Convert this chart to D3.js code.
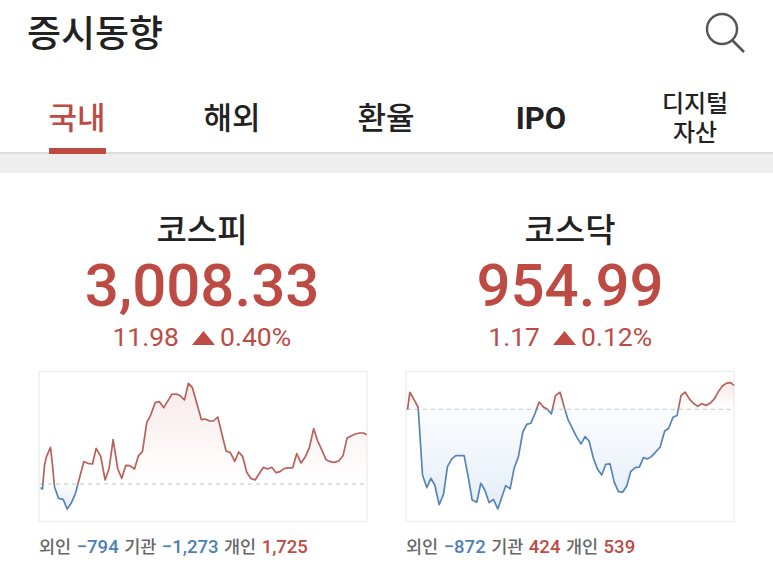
<!DOCTYPE html>
<html>
<head>
<meta charset="utf-8">
<script src="https://cdn.jsdelivr.net/npm/d3@7"></script>
<style>
  html, body { margin: 0; padding: 0; background: #fff; overflow: hidden; }
  text { font-family: "Noto Sans CJK KR", sans-serif; }
  .num { font-family: Roboto, sans-serif; }
</style>
</head>
<body>
<script>
// screen text
var title = '증시동향'
var tabs = ['국내', '해외', '환율', 'IPO']
var lastTab = ['디지털', '자산']
var indexNames = ['코스피', '코스닥']
var indexValues = ['3,008.33', '954.99']
var indexChanges = ['11.98', '1.17']
var indexRates = ['0.40%', '0.12%']

// minutes since the open, and change from the previous close
var kospiMinutes = [0, 2.4, 4.8, 7.2, 12, 14.4, 16.8, 21.6, 27.2, 32, 36.8, 42, 47.2, 52, 56.8, 62.4, 66.8, 72.4, 77.6, 82.4, 87.2, 92.8, 97.6, 102.4, 107.2, 112.8, 117.6, 122.4, 127.6, 132, 137.6, 142.8, 148, 157.6, 163.2, 167.6, 172.8, 177.6, 182.4, 188, 193.2, 197.6, 203.2, 207.6, 212.8, 222.8, 228, 233.2, 238, 242.8, 247.6, 252.4, 257.6, 267.6, 272.8, 277.6, 282.8, 287.6, 292.8, 302.8, 307.6, 312.8, 318, 322.8, 328, 332.8, 338, 342.8, 348, 352.8, 358, 363.2, 368, 372.8, 378, 382.8, 388, 391.6]
var kospiChange = [-0.88, -1.2, 4.56, 6.56, 8.8, 4.56, -0.64, -3.44, -3.68, -6, -4.64, -2.24, 1.76, 5.36, 4.96, 4.8, 8.56, 6.56, 0.96, 3.76, 10.64, 3.6, 1.36, 4.48, 4.4, 3.6, 6.8, 7.76, 14.8, 16.4, 19.52, 19.76, 18.32, 21.52, 21.6, 21.2, 20.16, 24.16, 23.12, 19.12, 15.44, 15.6, 15.12, 15.12, 16.08, 7.92, 7.52, 5.44, 7.68, 6.56, 2.8, 1.36, 0.96, 4, 3.6, 4, 2.72, 2.96, 3.76, 3.92, 7.28, 5.04, 6.56, 8.72, 13.28, 10.32, 8.08, 5.84, 5.36, 5.2, 5.52, 6.8, 10.96, 11.52, 12, 12.24, 12.24, 11.84]

var kosdaqMinutes = [0, 2.8, 8, 12.8, 18, 23.2, 28, 32.8, 38, 43.2, 48, 53.2, 58, 68, 73.2, 77.6, 83.2, 88, 92.8, 98, 103.2, 108.4, 118, 123.2, 128, 133.2, 138.4, 143.2, 148, 153.2, 158, 163.2, 168, 172.8, 177.6, 183.2, 188, 192.8, 198, 202.8, 208.4, 213.2, 218, 223.2, 228, 233.2, 238, 243.2, 248, 253.2, 258.4, 263.2, 268, 273.2, 278.4, 283.2, 288, 292.8, 303.2, 308.8, 313.6, 318.8, 323.6, 328.4, 333.2, 338.4, 343.2, 348.4, 353.2, 358.4, 363.2, 368.4, 373.2, 378, 383.2, 388, 392]
var kosdaqChange = [-0.03, 0.82, 0.45, 0.1, -3.15, -3.76, -3.31, -3.63, -4.58, -4.08, -2.75, -2.38, -2.22, -2.22, -3.31, -4.35, -4.46, -3.55, -3.87, -4.48, -4.32, -4.78, -3.66, -3.82, -2.83, -2.27, -1.1, -0.72, -0.67, -0.19, 0.35, 0.11, 0, -0.22, 0.66, 0.82, 0.13, -0.51, -0.91, -1.31, -1.66, -1.31, -1.52, -2.35, -2.86, -3.15, -2.64, -2.62, -3.47, -3.95, -3.97, -3.68, -2.99, -2.8, -2.77, -2.32, -2.38, -2.27, -1.82, -1.04, -0.91, -0.38, -0.3, 0.66, 0.83, 0.5, 0.29, 0.14, 0.27, 0.19, 0.29, 0.5, 0.85, 1.12, 1.26, 1.28, 1.15]

// investor net buying under each chart
var investorNames = ['외인', '기관', '개인']
var kospiInvestors = [-794, -1273, 1725]
var kosdaqInvestors = [-872, 424, 539]

// colours
var red = '#bd4b43'
var lineRed = '#b8605a'
var lineBlue = '#5684b8'
var blue = '#4d7fb5'
var dark = '#222'

var svg = d3.select('body').append('svg')
  .attr('width', 773).attr('height', 567)
  .style('display', 'block')
var defs = svg.append('defs')

// header
svg.append('text').text(title)
  .attr('x', 27).attr('y', 47)
  .attr('font-size', 37).attr('font-weight', 500).attr('fill', dark)

// search icon
svg.append('circle').attr('cx', 722).attr('cy', 29).attr('r', 15)
  .attr('fill', 'none').attr('stroke', '#555').attr('stroke-width', 2.4)
svg.append('line').attr('x1', 732).attr('y1', 40).attr('x2', 744).attr('y2', 52)
  .attr('stroke', '#555').attr('stroke-width', 2.6)

// tabs
var tabX = [77, 232, 386, 541]
svg.selectAll('text.tab').data(tabs).enter().append('text')
  .attr('class', function(d) { return d === 'IPO' ? 'tab num' : 'tab' })
  .text(function(d) { return d })
  .attr('x', function(d, i) { return tabX[i] })
  .attr('y', 129)
  .attr('text-anchor', 'middle')
  .attr('font-size', 31)
  .attr('font-weight', function(d) { return d === 'IPO' ? 700 : 500 })
  .attr('fill', function(d, i) { return i === 0 ? red : dark })
// the last tab wraps onto two lines inside one text
var lastTabText = svg.append('text')
  .attr('text-anchor', 'middle')
  .attr('font-size', 24).attr('font-weight', 500).attr('fill', dark)
lastTabText.selectAll('tspan').data(lastTab).enter().append('tspan')
  .text(function(d) { return d })
  .attr('x', 695)
  .attr('y', function(d, i) { return 112 + i * 29 })

// band under the tabs
svg.append('rect').attr('x', 0).attr('y', 153).attr('width', 773).attr('height', 20).attr('fill', '#eeeeee')
svg.append('rect').attr('x', 0).attr('y', 152).attr('width', 773).attr('height', 2).attr('fill', '#dddddd')
svg.append('rect').attr('x', 49).attr('y', 148).attr('width', 57).attr('height', 6).attr('fill', red)

// one index panel: headline, sparkline and investor row
var drawPanel = function(p) {
  var g = svg.append('g')
  g.append('text').text(p.name)
    .attr('x', p.cx).attr('y', 242).attr('text-anchor', 'middle')
    .attr('font-size', 33).attr('font-weight', 500).attr('fill', dark)
  g.append('text').attr('class', 'num').text(p.value)
    .attr('x', p.cx).attr('y', 306).attr('text-anchor', 'middle')
    .attr('font-size', 60).attr('font-weight', 500).attr('fill', red)

  g.append('text').attr('class', 'num').text(p.change)
    .attr('x', p.changeX).attr('y', 346).attr('text-anchor', 'end')
    .attr('font-size', 26.5).attr('fill', red)
  g.append('path')
    .attr('d', d3.line()([[p.triX, 345], [p.triX + 23, 345], [p.triX + 11.5, 331]]) + 'Z')
    .attr('fill', red)
  g.append('text').attr('class', 'num').text(p.rate)
    .attr('x', p.triX + 28).attr('y', 346)
    .attr('font-size', 26.5).attr('fill', red)

  // frame
  g.append('rect')
    .attr('x', p.left).attr('y', 371.5).attr('width', 328).attr('height', 150)
    .attr('fill', '#fff').attr('stroke', '#eeeeee').attr('stroke-width', 1.4)

  var x = d3.scaleLinear().domain([0, 392]).range([p.left + 1.5, p.left + 328])
  var y = d3.scaleLinear().domain(p.yDomain).range([521, 371.5])
  var base = y(0)
  var data = p.minutes.map(function(m, i) { return [m, p.changes[i]] })

  // clip above and below the previous close
  var upId = 'up' + p.id, downId = 'down' + p.id
  defs.append('clipPath').attr('id', upId).append('rect')
    .attr('x', p.left).attr('y', 371.5).attr('width', 329).attr('height', base - 371.5)
  defs.append('clipPath').attr('id', downId).append('rect')
    .attr('x', p.left).attr('y', base).attr('width', 329).attr('height', 521 - base)

  var gradUp = defs.append('linearGradient').attr('id', 'gu' + p.id)
    .attr('gradientUnits', 'userSpaceOnUse')
    .attr('x1', 0).attr('x2', 0).attr('y1', y(d3.max(p.changes))).attr('y2', base)
  gradUp.append('stop').attr('offset', 0).attr('stop-color', '#c8645a').attr('stop-opacity', 0.13)
  gradUp.append('stop').attr('offset', 1).attr('stop-color', '#c8645a').attr('stop-opacity', 0)
  var gradDown = defs.append('linearGradient').attr('id', 'gd' + p.id)
    .attr('gradientUnits', 'userSpaceOnUse')
    .attr('x1', 0).attr('x2', 0).attr('y1', base).attr('y2', y(d3.min(p.changes)))
  gradDown.append('stop').attr('offset', 0).attr('stop-color', '#5a93d0').attr('stop-opacity', 0.02)
  gradDown.append('stop').attr('offset', 1).attr('stop-color', '#5a93d0').attr('stop-opacity', 0.17)

  var area = d3.area().x(function(d) { return x(d[0]) }).y0(base).y1(function(d) { return y(d[1]) })
  var line = d3.line().x(function(d) { return x(d[0]) }).y(function(d) { return y(d[1]) })

  g.append('path').attr('d', area(data)).attr('fill', 'url(#gu' + p.id + ')').attr('clip-path', 'url(#' + upId + ')')
  g.append('path').attr('d', area(data)).attr('fill', 'url(#gd' + p.id + ')').attr('clip-path', 'url(#' + downId + ')')

  g.append('line')
    .attr('x1', p.left + 1).attr('x2', p.left + 328).attr('y1', base).attr('y2', base)
    .attr('stroke', '#c4c4c4').attr('stroke-width', 1).attr('stroke-dasharray', '4 4')

  g.append('path').attr('d', line(data)).attr('fill', 'none').attr('stroke', lineRed)
    .attr('stroke-width', 1.7).attr('stroke-linejoin', 'round').attr('clip-path', 'url(#' + upId + ')')
  g.append('path').attr('d', line(data)).attr('fill', 'none').attr('stroke', lineBlue)
    .attr('stroke-width', 1.7).attr('stroke-linejoin', 'round').attr('clip-path', 'url(#' + downId + ')')

  // investor row, one text with coloured spans
  var row = g.append('text').attr('x', p.left).attr('y', 553)
    .attr('font-size', 17.5).attr('font-weight', 500)
  investorNames.forEach(function(name, i) {
    var v = p.investors[i]
    row.append('tspan').text(name).attr('fill', '#666').attr('dx', i ? 5.5 : 0)
    row.append('tspan').attr('class', 'num')
      .text((v < 0 ? '−' : '') + d3.format(',')(Math.abs(v)))
      .attr('fill', v < 0 ? blue : red).attr('dx', 5.5)
      .style('font-family', 'Roboto, sans-serif').attr('font-size', 18.5)
  })
}

drawPanel({id: 'a', name: indexNames[0], value: indexValues[0], change: indexChanges[0], rate: indexRates[0],
  cx: 202, changeX: 179, triX: 192, left: 39, yDomain: [-8.88, 27],
  minutes: kospiMinutes, changes: kospiChange, investors: kospiInvestors})
drawPanel({id: 'b', name: indexNames[1], value: indexValues[1], change: indexChanges[1], rate: indexRates[1],
  cx: 570, changeX: 540, triX: 553, left: 406, yDomain: [-5.36, 1.816],
  minutes: kosdaqMinutes, changes: kosdaqChange, investors: kosdaqInvestors})
</script>
</body>
</html>
